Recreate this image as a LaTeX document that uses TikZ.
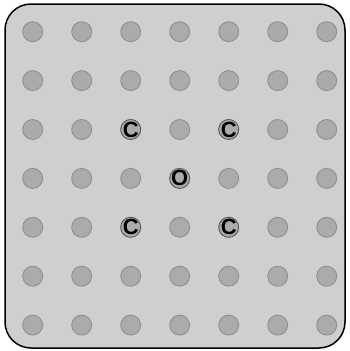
\documentclass[tikz,border=0pt]{standalone}
\usepackage{fontspec}
\setmainfont{Liberation Sans}
\definecolor{cellfill}{HTML}{CFCFCF}
\definecolor{sitefill}{HTML}{ABABAB}
\definecolor{siteedge}{HTML}{8C8C8C}
\definecolor{atomedge}{HTML}{555555}
\newcommand{\atomfont}{\fontsize{22pt}{22pt}\selectfont\bfseries}
\begin{document}
\begin{tikzpicture}[x=1pt,y=-1pt,
  site/.style={circle,minimum size=20pt,inner sep=0pt,draw=siteedge,fill=sitefill,line width=0.8pt},
  atom/.style={site,draw=atomedge,label={[inner sep=0pt,font=\atomfont]center:#1}}]
\useasboundingbox (0,0) rectangle (349,351);
\draw[fill=cellfill,line width=1.5pt,rounded corners=26pt] (5,4) rectangle (345,348);
% grid of sites
\foreach \i in {1,...,7}
  \foreach \j in {1,...,7}
    \node[site] (s\i\j) at ({32.7+49*(\i-1)},{31.7+48.9*(\j-1)}) {};
% atoms
\node[atom=C] (c1) at (s33) {};
\node[atom=C] (c2) at (s53) {};
\node[atom=C] (c3) at (s35) {};
\node[atom=C] (c4) at (s55) {};
\node[atom=O] (o1) at (s44) {};
\end{tikzpicture}
\end{document}
